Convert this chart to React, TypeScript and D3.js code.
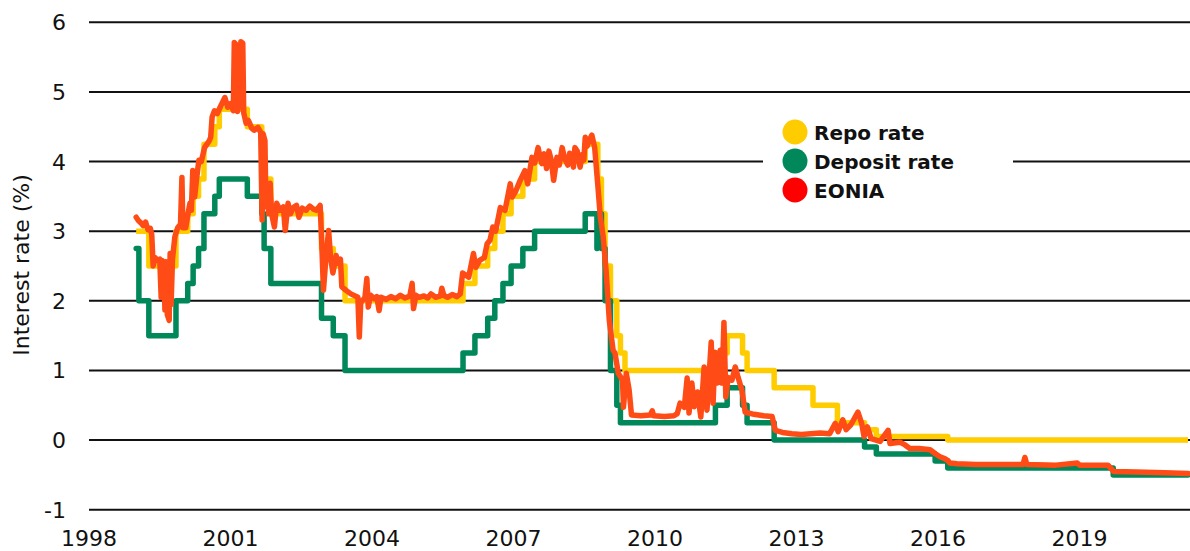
import React from "react";
import * as d3 from "d3";

// ---------- data ----------
const yearTicks = [1998, 2001, 2004, 2007, 2010, 2013, 2016, 2019];
const valueTicks = [-1, 0, 1, 2, 3, 4, 5, 6];
const xDomain = [1998, 2021.34];
const yDomain = [-1, 6];
const seriesNames = ["Repo rate", "Deposit rate", "EONIA"];
const lastDate = "2021-04-20";

const repoDates = [
  "1999-01-01", "1999-04-09", "1999-11-05", "2000-02-04", "2000-03-17", "2000-04-28",
  "2000-06-09", "2000-09-01", "2000-10-06", "2001-05-11", "2001-08-31", "2001-09-18",
  "2001-11-09", "2002-12-06", "2003-03-07", "2003-06-06", "2005-12-06", "2006-03-08",
  "2006-06-15", "2006-08-09", "2006-10-11", "2006-12-13", "2007-03-14", "2007-06-13",
  "2008-07-09", "2008-10-15", "2008-11-12", "2008-12-10", "2009-01-21", "2009-03-11",
  "2009-04-08", "2009-05-13", "2011-04-13", "2011-07-13", "2011-11-09", "2011-12-14",
  "2012-07-11", "2013-05-08", "2013-11-13", "2014-06-11", "2014-09-10", "2016-03-16",
];
const repoValues = [
  3.0, 2.5, 3.0, 3.25, 3.5, 3.75,
  4.25, 4.5, 4.75, 4.5, 4.25, 3.75,
  3.25, 2.75, 2.5, 2.0, 2.25, 2.5,
  2.75, 3.0, 3.25, 3.5, 3.75, 4.0,
  4.25, 3.75, 3.25, 2.5, 2.0, 1.5,
  1.25, 1.0, 1.25, 1.5, 1.25, 1.0,
  0.75, 0.5, 0.25, 0.15, 0.05, 0.0,
];

const depositDates = [
  "1999-01-01", "1999-01-22", "1999-04-09", "1999-11-05", "2000-02-04", "2000-03-17",
  "2000-04-28", "2000-06-09", "2000-09-01", "2000-10-06", "2001-05-11", "2001-08-31",
  "2001-09-18", "2001-11-09", "2002-12-06", "2003-03-07", "2003-06-06", "2005-12-06",
  "2006-03-08", "2006-06-15", "2006-08-09", "2006-10-11", "2006-12-13", "2007-03-14",
  "2007-06-13", "2008-07-09", "2008-10-08", "2008-10-09", "2008-11-12", "2008-12-10",
  "2009-01-21", "2009-03-11", "2009-04-08", "2011-04-13", "2011-07-13", "2011-11-09",
  "2011-12-14", "2012-07-11", "2014-06-11", "2014-09-10", "2015-12-09", "2016-03-16",
  "2019-09-18",
];
const depositValues = [
  2.75, 2.0, 1.5, 2.0, 2.25, 2.5,
  2.75, 3.25, 3.5, 3.75, 3.5, 3.25,
  2.75, 2.25, 1.75, 1.5, 1.0, 1.25,
  1.5, 1.75, 2.0, 2.25, 2.5, 2.75,
  3.0, 3.25, 2.75, 3.25, 2.75, 2.0,
  1.0, 0.5, 0.25, 0.5, 0.75, 0.5,
  0.25, 0.0, -0.1, -0.2, -0.3, -0.4,
  -0.5,
];

// EONIA: [decimal year, %]
const eonia: [number, number][] = [
  [1999.0, 3.2], [1999.05, 3.15], [1999.1, 3.12], [1999.15, 3.08], [1999.2, 3.13],
  [1999.25, 3.02], [1999.3, 3.04], [1999.33, 2.95], [1999.36, 2.5], [1999.4, 2.62],
  [1999.45, 2.58], [1999.5, 2.6], [1999.53, 2.05], [1999.55, 2.58], [1999.58, 2.55],
  [1999.61, 1.87], [1999.63, 2.56], [1999.66, 1.8], [1999.7, 1.72], [1999.72, 2.68],
  [1999.74, 1.95], [1999.77, 2.6], [1999.82, 2.92], [1999.88, 3.05], [1999.94, 3.1],
  [1999.97, 3.77], [1999.99, 3.05], [2000.05, 3.05], [2000.1, 3.25], [2000.14, 3.4],
  [2000.17, 3.3], [2000.2, 3.87], [2000.24, 3.49], [2000.28, 3.75], [2000.33, 4.02],
  [2000.38, 4.0], [2000.45, 4.2], [2000.55, 4.3], [2000.58, 4.35], [2000.61, 4.64],
  [2000.66, 4.73], [2000.72, 4.69], [2000.78, 4.78], [2000.88, 4.92], [2000.94, 4.78],
  [2001.0, 4.83], [2001.06, 4.73], [2001.08, 5.71], [2001.12, 5.68], [2001.15, 4.72],
  [2001.19, 4.85], [2001.22, 5.72], [2001.26, 5.7], [2001.28, 4.7], [2001.33, 4.55],
  [2001.38, 4.59], [2001.45, 4.48], [2001.5, 4.45], [2001.58, 4.49], [2001.64, 4.42],
  [2001.67, 3.16], [2001.69, 4.4], [2001.73, 4.3], [2001.75, 3.35], [2001.78, 3.69],
  [2001.81, 3.25], [2001.84, 3.69], [2001.87, 3.25], [2001.93, 3.06], [2001.98, 3.4],
  [2002.05, 3.3], [2002.12, 3.35], [2002.16, 3.01], [2002.22, 3.4], [2002.27, 3.25],
  [2002.33, 3.34], [2002.4, 3.37], [2002.45, 3.2], [2002.52, 3.33], [2002.6, 3.3],
  [2002.68, 3.36], [2002.75, 3.32], [2002.82, 3.3], [2002.9, 3.37],
  [2002.93, 2.9], [2002.97, 2.15], [2003.03, 2.68], [2003.08, 3.01], [2003.12, 2.63],
  [2003.17, 2.4], [2003.24, 2.65], [2003.28, 2.54], [2003.33, 2.6], [2003.36, 2.2],
  [2003.45, 2.15], [2003.55, 2.1], [2003.7, 2.05], [2003.73, 1.48], [2003.76, 1.97],
  [2003.85, 2.05], [2003.89, 2.32], [2003.92, 1.91], [2003.97, 2.08], [2004.05, 2.03],
  [2004.1, 2.06], [2004.15, 1.86], [2004.19, 2.05], [2004.3, 2.02], [2004.4, 2.06],
  [2004.5, 2.03], [2004.6, 2.08], [2004.7, 2.04], [2004.8, 2.07],
  [2004.85, 2.25], [2004.88, 1.89], [2004.93, 2.08], [2005.0, 2.05], [2005.1, 2.07],
  [2005.18, 2.04], [2005.25, 2.1], [2005.35, 2.05], [2005.45, 2.07], [2005.48, 2.18],
  [2005.52, 2.08], [2005.6, 2.05], [2005.7, 2.09], [2005.8, 2.06], [2005.87, 2.1],
  [2005.92, 2.4], [2006.05, 2.34], [2006.15, 2.68], [2006.2, 2.48], [2006.28, 2.58],
  [2006.38, 2.62], [2006.44, 2.82], [2006.5, 2.87], [2006.56, 3.06], [2006.62, 3.0],
  [2006.72, 3.34], [2006.82, 3.3], [2006.93, 3.68], [2006.97, 3.49], [2007.05, 3.58],
  [2007.14, 3.73], [2007.24, 3.87], [2007.3, 3.68], [2007.39, 4.06], [2007.45, 3.98],
  [2007.52, 4.2], [2007.56, 4.07], [2007.6, 3.97], [2007.65, 4.11], [2007.7, 3.9],
  [2007.75, 4.15], [2007.8, 4.02], [2007.85, 3.73], [2007.92, 4.06], [2007.97, 3.95],
  [2008.03, 4.2], [2008.08, 4.05], [2008.15, 3.95], [2008.19, 4.12], [2008.24, 4.06],
  [2008.27, 3.92], [2008.3, 4.2], [2008.35, 4.15], [2008.41, 3.92], [2008.46, 4.1],
  [2008.49, 4.02], [2008.52, 4.35], [2008.56, 4.22], [2008.6, 4.3], [2008.66, 4.38],
  [2008.72, 4.2], [2008.79, 3.63], [2008.84, 3.2], [2008.9, 2.92], [2008.96, 2.45],
  [2009.03, 1.72], [2009.11, 1.29], [2009.15, 1.25], [2009.22, 0.96], [2009.31, 0.86],
  [2009.33, 0.47], [2009.39, 0.96], [2009.45, 0.72], [2009.5, 0.36], [2009.7, 0.35],
  [2009.9, 0.36], [2009.94, 0.42], [2009.97, 0.35], [2010.2, 0.34], [2010.4, 0.35],
  [2010.47, 0.38], [2010.53, 0.53], [2010.62, 0.47], [2010.68, 0.89], [2010.72, 0.39],
  [2010.78, 0.82], [2010.83, 0.48], [2010.9, 0.69], [2010.97, 0.33], [2011.04, 1.05],
  [2011.1, 0.43], [2011.19, 1.41], [2011.23, 0.53], [2011.27, 1.26], [2011.32, 0.82],
  [2011.38, 1.29], [2011.42, 0.82], [2011.46, 1.69], [2011.5, 0.62], [2011.55, 0.9],
  [2011.63, 0.86], [2011.7, 1.05], [2011.76, 0.9], [2011.84, 0.72], [2011.91, 0.4],
  [2012.1, 0.37], [2012.3, 0.35], [2012.48, 0.34], [2012.55, 0.14], [2012.7, 0.11],
  [2012.9, 0.09], [2013.1, 0.08], [2013.3, 0.09], [2013.5, 0.1], [2013.7, 0.09],
  [2013.82, 0.24], [2013.88, 0.12], [2013.98, 0.29], [2014.05, 0.15], [2014.15, 0.22],
  [2014.3, 0.4], [2014.38, 0.24], [2014.43, 0.05], [2014.5, 0.19], [2014.58, 0.02],
  [2014.77, -0.02], [2014.94, 0.14], [2014.98, -0.05], [2015.19, -0.03], [2015.3, -0.07],
  [2015.4, -0.12], [2015.6, -0.12], [2015.83, -0.14], [2015.95, -0.2], [2016.04, -0.24],
  [2016.15, -0.27], [2016.2, -0.29], [2016.25, -0.33], [2016.4, -0.34], [2016.8, -0.35],
  [2017.3, -0.35], [2017.8, -0.35], [2017.84, -0.25], [2017.88, -0.35], [2018.5, -0.36],
  [2018.95, -0.33], [2019.0, -0.36], [2019.6, -0.36], [2019.72, -0.45], [2020.2, -0.46],
  [2020.8, -0.47], [2021.3, -0.48],
];

// ---------- styles ----------
const COLORS = { repo: "#FFCC00", deposit: "#00875A", eonia: "#FF4B15" };
const LEGEND_DOTS = ["#FFCC00", "#00875A", "#FF0000"];
const FONT = "'DejaVu Sans', sans-serif";
const W = 1190;
const H = 551;
const LINE_W = 5.5;

const parse = d3.timeParse("%Y-%m-%d");
function toYear(s: string): number {
  const d = parse(s)!;
  const y = d.getFullYear();
  const start = new Date(y, 0, 1).getTime();
  const end = new Date(y + 1, 0, 1).getTime();
  return y + (d.getTime() - start) / (end - start);
}

function steps(dates: string[], values: number[]): [number, number][] {
  const pts: [number, number][] = dates.map((d, i) => [toYear(d), values[i]]);
  pts.push([toYear(lastDate), values[values.length - 1]]);
  return pts;
}

export default function App() {
  const x = d3.scaleLinear().domain(xDomain).range([89, 1190]);
  const y = d3.scaleLinear().domain(yDomain).range([509.7, 22.3]);

  const stepLine = d3
    .line<[number, number]>()
    .x((d) => x(d[0]))
    .y((d) => y(d[1]))
    .curve(d3.curveStepAfter);
  const plainLine = d3
    .line<[number, number]>()
    .x((d) => x(d[0]))
    .y((d) => y(d[1]));

  const repo = steps(repoDates, repoValues);
  const deposit = steps(depositDates, depositValues);

  const legendX = 795;
  const legendY = [132, 161, 190];

  return (
    <svg
      width={W}
      height={H}
      style={{ position: "absolute", left: 0, top: 0, background: "#fff" }}
      fontFamily={FONT}
    >
      {valueTicks.map((v) => (
        <g key={v}>
          <line x1={x(xDomain[0])} x2={W} y1={y(v)} y2={y(v)} stroke="#111" strokeWidth={2} />
          <text x={66} y={y(v) + 8} textAnchor="end" fontSize={22} fill="#111">
            {v}
          </text>
        </g>
      ))}
      {yearTicks.map((t) => (
        <text key={t} x={x(t)} y={546} textAnchor="middle" fontSize={22} fill="#111">
          {t}
        </text>
      ))}
      <text
        transform={`translate(29,265) rotate(-90)`}
        textAnchor="middle"
        fontSize={22}
        fill="#111"
      >
        Interest rate (%)
      </text>

      <path d={stepLine(repo) || ""} fill="none" stroke={COLORS.repo} strokeWidth={LINE_W} strokeLinejoin="round" />
      <path d={stepLine(deposit) || ""} fill="none" stroke={COLORS.deposit} strokeWidth={LINE_W} strokeLinejoin="round" strokeLinecap="round" />
      <path d={plainLine(eonia) || ""} fill="none" stroke={COLORS.eonia} strokeWidth={LINE_W} strokeLinejoin="round" strokeLinecap="round" />

      <rect x={763} y={115} width={250} height={90} fill="#fff" />
      {seriesNames.map((n, i) => (
        <g key={n}>
          <circle cx={legendX} cy={legendY[i]} r={12.5} fill={LEGEND_DOTS[i]} />
          <text x={814} y={legendY[i] + 8} fontSize={20} fontWeight="bold" fill="#111">
            {n}
          </text>
        </g>
      ))}
    </svg>
  );
}
